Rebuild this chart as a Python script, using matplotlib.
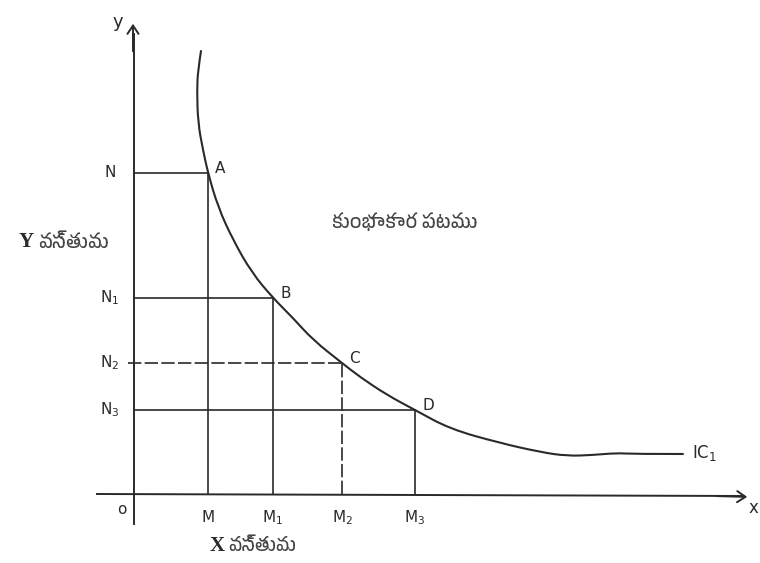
import numpy as np
import matplotlib
matplotlib.use("Agg")
import matplotlib.pyplot as plt
from matplotlib import font_manager
from matplotlib.path import Path
from matplotlib.patches import PathPatch

# points (origin = O, 1 unit ~ 10 px)
curve_x = [6.7, 6.4, 6.3, 6.4, 6.9, 7.4, 8.4, 9.9, 11.8, 13.9, 15.9, 17.9,
           20.8, 22.6, 25.3, 28.1, 31.6, 36.6, 40.6, 43.3, 45.9, 48.3, 49.9, 54.9]
curve_y = [44.3, 42.4, 40.4, 37.1, 34.4, 32.1, 28.7, 25.4, 22.1, 19.6, 17.6, 15.4,
           13.1, 11.7, 9.9, 8.4, 6.5, 5.1, 4.2, 3.8, 3.9, 4.1, 4.0, 4.0]

point_names = ["A", "B", "C", "D"]
point_x = [7.4, 13.9, 20.8, 28.1]
point_y = [32.1, 19.6, 13.1, 8.4]
x_ticks = ["M", "M$_1$", "M$_2$", "M$_3$"]
y_ticks = ["N", "N$_1$", "N$_2$", "N$_3$"]

title_text = "కుంభాకార పటము"
x_name = "వస్తువు"
y_name = "వస్తువు"
curve_name = "IC$_1$"


def find_telugu_family():
    for f in font_manager.fontManager.ttflist:
        if "telugu" in f.name.lower() or "gautami" in f.name.lower():
            return f.name
    return None


def smooth_path(xs, ys):
    # quadratic bezier through midpoints, read points act as control points
    verts = [(xs[0], ys[0])]
    codes = [Path.MOVETO]
    for i in range(1, len(xs) - 1):
        mx = (xs[i] + xs[i + 1]) / 2
        my = (ys[i] + ys[i + 1]) / 2
        if i == len(xs) - 2:
            mx, my = xs[-1], ys[-1]
        verts += [(xs[i], ys[i]), (mx, my)]
        codes += [Path.CURVE3, Path.CURVE3]
    return Path(verts, codes)


tel = find_telugu_family()
tel_family = [tel, "DejaVu Sans"] if tel else ["DejaVu Sans"]

ink = "#2a2a2a"
hand = dict(color=ink, fontsize=11, family="DejaVu Sans")

fig = plt.figure(figsize=(7.6, 5.63), dpi=100)
ax = fig.add_axes([0, 0, 1, 1])
ax.set_xlim(-13.4, 62.6)
ax.set_ylim(-6.9, 49.4)
ax.axis("off")

# axes with arrows
ax.plot([0, 0], [-3.0, 46.0], color=ink, lw=1.4)
ax.plot([-3.7, 61.0], [0, -0.2], color=ink, lw=1.4)
ax.annotate("", xy=(-0.1, 47.3), xytext=(-0.1, 44.0),
            arrowprops=dict(arrowstyle="->,head_length=0.6,head_width=0.4", color=ink, lw=1.4))
ax.annotate("", xy=(61.6, -0.3), xytext=(58.0, -0.2),
            arrowprops=dict(arrowstyle="->,head_length=0.6,head_width=0.4", color=ink, lw=1.4))

# indifference curve
ax.add_patch(PathPatch(smooth_path(curve_x, curve_y), facecolor="none",
                       edgecolor=ink, lw=1.5, capstyle="round"))

# drop lines to both axes
for i in range(len(point_x)):
    px, py = point_x[i], point_y[i]
    ls = (0, (8, 2)) if i == 2 else "-"
    ax.plot([0 if i != 2 else -0.6, px], [py, py], color=ink, lw=1.2, ls=ls)
    ax.plot([px, px], [0, py], color=ink, lw=1.2, ls=ls)
    ax.text(px + 0.7, py + 0.4, point_names[i], ha="left", va="center", **hand)
    ax.text(px, -2.4, x_ticks[i], ha="center", va="center", **hand)
    ax.text(-2.4, py, y_ticks[i], ha="center", va="center", **hand)

ax.text(-1.2, -1.5, "o", ha="center", va="center", **hand)
ax.text(-1.6, 47.2, "y", ha="center", va="center", color=ink, fontsize=13)
ax.text(61.9, -1.4, "x", ha="center", va="center", color=ink, fontsize=12)
ax.text(55.8, 4.1, curve_name, ha="left", va="center", color=ink, fontsize=12)

ax.text(27.1, 27.2, title_text, ha="center", va="center", color="#444444",
        fontsize=13.5, family=tel_family)

# axis names: latin letter in serif bold, Telugu word after it
ax.text(-10.8, 25.2, "Y", ha="center", va="center", color=ink, fontsize=15,
        family="Liberation Serif", weight="bold")
ax.text(-9.6, 25.2, y_name, ha="left", va="center", color="#444444",
        fontsize=13.5, family=tel_family)
ax.text(8.3, -5.2, "X", ha="center", va="center", color=ink, fontsize=15,
        family="Liberation Serif", weight="bold")
ax.text(9.4, -5.2, x_name, ha="left", va="center", color="#444444",
        fontsize=13, family=tel_family)

fig.savefig("out.png", dpi=100)
